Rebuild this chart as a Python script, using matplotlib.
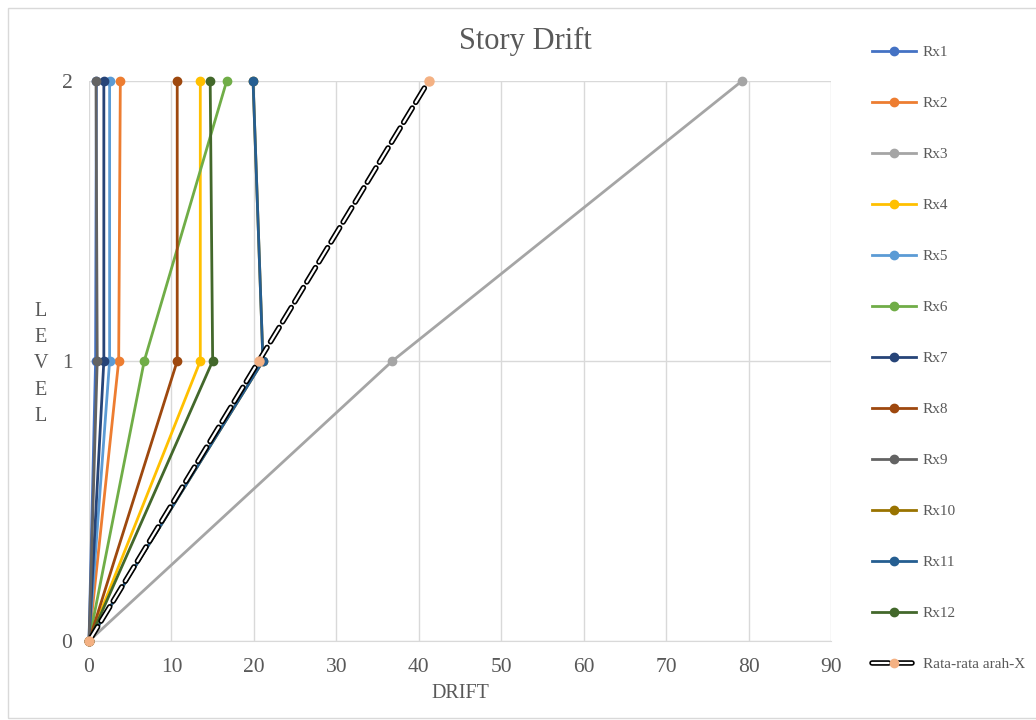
import matplotlib
matplotlib.use("Agg")
import matplotlib.pyplot as plt
import matplotlib.patches as patches
from matplotlib.legend_handler import HandlerTuple
from matplotlib.lines import Line2D

plt.rcParams['font.family'] = ['Liberation Serif', 'DejaVu Serif']

# drift values at level 0, 1, 2
levels = [0, 1, 2]
series_names = ['Rx1', 'Rx2', 'Rx3', 'Rx4', 'Rx5', 'Rx6',
                'Rx7', 'Rx8', 'Rx9', 'Rx10', 'Rx11', 'Rx12']
rx1 = [0, 0.8, 0.9]
rx2 = [0, 3.6, 3.8]
rx3 = [0, 36.8, 79.2]
rx4 = [0, 13.5, 13.5]
rx5 = [0, 2.5, 2.5]
rx6 = [0, 6.7, 16.7]
rx7 = [0, 1.8, 1.8]
rx8 = [0, 10.7, 10.7]
rx9 = [0, 1.0, 0.85]
rx10 = [0, 21.1, 19.9]
rx11 = [0, 21.1, 19.9]
rx12 = [0, 15.0, 14.7]
rata = [0, 20.6, 41.2]
series_vals = [rx1, rx2, rx3, rx4, rx5, rx6, rx7, rx8, rx9, rx10, rx11, rx12]
colors = ['#4472C4', '#ED7D31', '#A5A5A5', '#FFC000', '#5B9BD5', '#70AD47',
          '#264478', '#9E480E', '#636363', '#997300', '#255E91', '#43682B']
text_grey = '#595959'

W, H = 1036, 720
fig = plt.figure(figsize=(W / 100, H / 100), dpi=100)
fig.patches.append(patches.Rectangle((8 / W, 2 / H), 1.2, (H - 10) / H,
                                     transform=fig.transFigure, fill=False,
                                     edgecolor='#D9D9D9', linewidth=1))

ax = fig.add_axes([89 / W, 1 - 641 / H, (831 - 89) / W, (641 - 81) / H])

handles = []
for name, vals, c in zip(series_names, series_vals, colors):
    h, = ax.plot(vals, levels, color=c, linewidth=2, marker='o', markersize=6,
                 label=name, zorder=3, clip_on=False)
    handles.append(h)

# average line: black dashes with white core
ax.plot(rata, levels, color='black', linewidth=4, dashes=(3, 1.2),
        zorder=4, dash_capstyle='round', clip_on=False)
ax.plot(rata, levels, color='white', linewidth=1.6, dashes=(7.5, 3),
        zorder=5, dash_capstyle='round', clip_on=False)
ax.plot(rata, levels, linestyle='none', marker='o', markersize=6.5,
        color='#F4B183', zorder=6, clip_on=False)

avg_black = Line2D([], [], color='black', linewidth=4, dashes=(3, 1.2),
                   dash_capstyle='round')
avg_white = Line2D([], [], color='white', linewidth=1.6, dashes=(7.5, 3),
                   dash_capstyle='round')
avg_marker = Line2D([], [], linestyle='none', marker='o', markersize=6,
                    color='#F4B183')

ax.set_xlim(0, 90)
ax.set_ylim(0, 2)
ax.set_xticks(range(0, 91, 10))
ax.set_yticks([0, 1, 2])
ax.grid(True, color='#D9D9D9', linewidth=1)
ax.set_axisbelow(True)
for s in ['top', 'right', 'left']:
    ax.spines[s].set_visible(False)
ax.spines['bottom'].set_color('#D9D9D9')
ax.tick_params(length=0, labelsize=15.5, labelcolor=text_grey, pad=12)

fig.text(525 / W, 1 - 41 / H, 'Story Drift', fontsize=22, color=text_grey,
         ha='center', va='center')
fig.text(460 / W, 1 - 694 / H, 'DRIFT', fontsize=14.5, color=text_grey,
         ha='center', va='center')
fig.text(41 / W, 1 - 364 / H, 'L\nE\nV\nE\nL', fontsize=14.5, color=text_grey,
         ha='center', va='center', linespacing=1.52)

leg = fig.legend(handles + [(avg_black, avg_white, avg_marker)],
                 series_names + ['Rata-rata arah-X'],
                 handler_map={tuple: HandlerTuple(ndivide=1)},
                 loc='upper left', bbox_to_anchor=(858 / W, 1 - 32 / H),
                 frameon=False, fontsize=11, labelspacing=2.44,
                 handlelength=2.9, handletextpad=0.45)
for t in leg.get_texts():
    t.set_color(text_grey)

fig.savefig('out.png', dpi=100)
